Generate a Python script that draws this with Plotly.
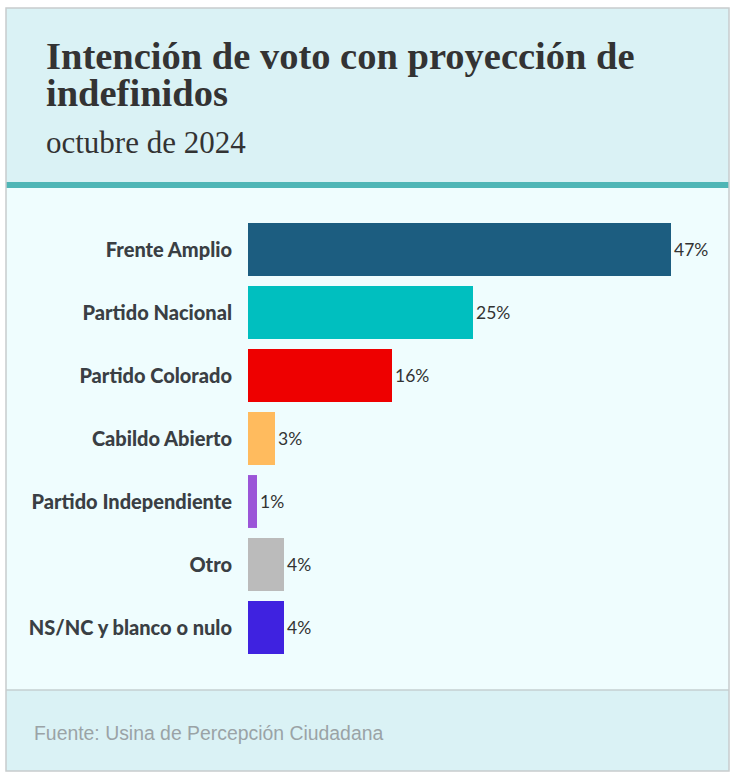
import plotly.graph_objects as go

W, H = 738, 779

categories = ["Frente Amplio", "Partido Nacional", "Partido Colorado", "Cabildo Abierto",
              "Partido Independiente", "Otro", "NS/NC y blanco o nulo"]
values = [47, 25, 16, 3, 1, 4, 4]
value_labels = ["47%", "25%", "16%", "3%", "1%", "4%", "4%"]
colors = ["#1c5d80", "#00bfbf", "#ee0000", "#ffbb5e", "#9b55d8", "#bbbbbb", "#3f22e0"]

title_line1 = "Intención de voto con proyección de"
title_line2 = "indefinidos"
subtitle = "octubre de 2024"
source = "Fuente: Usina de Percepción Ciudadana"

def px(x):
    return x / W

def py(y):
    return 1 - y / H

fig = go.Figure(go.Bar(
    x=values, y=categories, orientation="h",
    marker=dict(color=colors, line=dict(width=0)),
    text=value_labels, textposition="outside", cliponaxis=False,
    textfont=dict(family="Lato", size=17.5, color="#333333"),
    hoverinfo="skip",
))

shapes = [
    dict(type="rect", xref="paper", yref="paper", x0=px(6), x1=px(729), y0=py(8), y1=py(183),
         fillcolor="#daf2f5", line=dict(width=0), layer="below"),
    dict(type="rect", xref="paper", yref="paper", x0=px(6), x1=px(729), y0=py(188), y1=py(690),
         fillcolor="#effdfe", line=dict(width=0), layer="below"),
    dict(type="rect", xref="paper", yref="paper", x0=px(6), x1=px(729), y0=py(690), y1=py(771),
         fillcolor="#daf2f5", line=dict(width=0), layer="below"),
    dict(type="rect", xref="paper", yref="paper", x0=px(6), x1=px(24), y0=py(188), y1=py(690),
         fillcolor="#effdfe", line=dict(width=0), layer="above"),
    dict(type="rect", xref="paper", yref="paper", x0=px(6), x1=px(729), y0=py(182), y1=py(188),
         fillcolor="#4fb6b6", line=dict(width=0), layer="above"),
    dict(type="line", xref="paper", yref="paper", x0=px(6), x1=px(729), y0=py(690), y1=py(690),
         line=dict(color="#c4cfd1", width=1.5), layer="above"),
    dict(type="rect", xref="paper", yref="paper", x0=px(6), x1=px(729), y0=py(8), y1=py(771),
         fillcolor="rgba(0,0,0,0)", line=dict(color="#c8cccd", width=1.5), layer="above"),
]

annotations = [
    dict(text="<b>" + title_line1 + "</b>", xref="paper", yref="paper",
         x=px(44), y=py(32.5), xanchor="left", yanchor="top", showarrow=False, align="left",
         font=dict(family="Liberation Serif", size=38.5, color="#333333")),
    dict(text="<b>" + title_line2 + "</b>", xref="paper", yref="paper",
         x=px(44), y=py(70.5), xanchor="left", yanchor="top", showarrow=False, align="left",
         font=dict(family="Liberation Serif", size=38.5, color="#333333")),
    dict(text=subtitle, xref="paper", yref="paper",
         x=px(44), y=py(123), xanchor="left", yanchor="top", showarrow=False, align="left",
         font=dict(family="Liberation Serif", size=31, color="#333333")),
    dict(text=source, xref="paper", yref="paper",
         x=px(32), y=py(720), xanchor="left", yanchor="top", showarrow=False, align="left",
         font=dict(family="Liberation Sans", size=19.4, color="#9aa3a6")),
]

fig.update_layout(
    width=W, height=H,
    margin=dict(l=0, r=0, t=0, b=0),
    paper_bgcolor="white", plot_bgcolor="rgba(0,0,0,0)",
    showlegend=False,
    bargap=0.16,
    shapes=shapes,
    annotations=annotations,
    xaxis=dict(domain=[px(248), px(716)], range=[0, 52], visible=False, fixedrange=True),
    yaxis=dict(domain=[py(659), py(218)], range=[6.5, -0.5], type="category",
               showgrid=False, zeroline=False, showline=False, ticks="",
               ticklabelstandoff=15,
               tickfont=dict(family="Lato", size=20, color="#3a3f44", weight=900),
               fixedrange=True),
)

fig.write_html("out.html", config={"displayModeBar": False},
               post_script="document.body.style.margin='0';document.body.style.overflow='hidden';")
